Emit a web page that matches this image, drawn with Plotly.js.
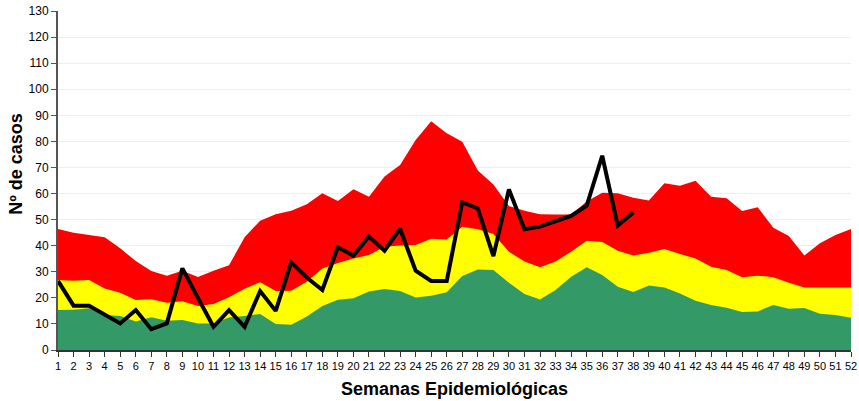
<!DOCTYPE html>
<html>
<head>
<meta charset="utf-8">
<script src="https://cdn.plot.ly/plotly-3.0.1.min.js"></script>
<style>html,body{margin:0;padding:0;background:#fff;}#chart{width:859px;height:401px;}</style>
</head>
<body>
<div id="chart"></div>
<script>
const weeks = Array.from({length: 52}, (_, i) => i + 1);
const redTop = [46.4,45,44.1,43.2,39,34.1,30.3,28.5,30.4,28,30.4,32.5,43.2,49.6,52.1,53.4,55.9,60.1,57.1,61.6,58.8,66.5,70.9,80.5,87.7,83.1,79.9,68.8,63.5,55.2,53.4,52.1,52,52,56.9,60.3,60.1,58.4,57.3,63.9,63,64.9,58.8,58.2,53.3,54.7,46.9,43.7,36.2,40.9,44.1,46.4];
const yellowTop = [26.8,26.6,26.8,23.6,22,19.2,19.5,18.1,18.7,16.9,17.6,20.2,23.5,26,22.6,22.7,26.2,31.3,33.4,35.1,36.4,39.6,40.1,40.3,42.7,42.4,47.3,46.3,44.5,37.7,33.9,31.7,33.9,37.7,41.9,41.4,38.1,36.2,37.3,38.7,36.8,35.1,31.9,30.7,27.9,28.5,27.9,25.8,24,24,24,24];
const greenTop = [15.3,15.4,16,13.4,13,10.9,12.6,11.2,11.5,10.2,10.2,12.5,13,13.8,10,9.7,12.8,16.9,19.3,19.8,22.4,23.4,22.6,20.1,20.8,22.1,28.4,30.9,30.7,25.8,21.5,19.4,23,28.1,31.7,28.8,24.3,22.2,24.7,24,21.7,18.9,17.3,16.2,14.6,14.8,17.3,15.8,16.1,13.9,13.4,12.4];
const casesWeeks = weeks.slice(0, 38);
const cases = [26.5,17,17,13.4,10.2,15.3,8,10.2,31.3,20,8.9,15.3,8.9,22.6,15,33.6,27.8,23,39.4,36.2,43.5,38.1,46.5,30.4,26.5,26.5,56.6,54.3,36,61.6,46.3,47.3,49.5,51.4,55.3,74.5,47.7,52.7];
const yTicks = [0,10,20,30,40,50,60,70,80,90,100,110,120,130];
const yTitle = 'Nº de casos';
const xTitle = 'Semanas Epidemiológicas';

const traces = [
  {x: weeks, y: redTop, type: 'scatter', mode: 'none', fill: 'tozeroy', fillcolor: '#FF0000', hoverinfo: 'skip'},
  {x: weeks, y: yellowTop, type: 'scatter', mode: 'none', fill: 'tozeroy', fillcolor: '#FFFF00', hoverinfo: 'skip'},
  {x: weeks, y: greenTop, type: 'scatter', mode: 'none', fill: 'tozeroy', fillcolor: '#339966', hoverinfo: 'skip'},
  {x: casesWeeks, y: cases, type: 'scatter', mode: 'lines', line: {color: '#000000', width: 4}}
];

const layout = {
  width: 859, height: 401,
  margin: {l: 58, r: 8, t: 11, b: 51},
  paper_bgcolor: '#ffffff', plot_bgcolor: '#ffffff',
  showlegend: false,
  font: {family: 'Arial, "Liberation Sans", sans-serif', size: 11, color: '#000'},
  xaxis: {
    range: [1, 52], tickvals: weeks, ticktext: weeks.map(String),
    showgrid: false, zeroline: false,
    showline: true, linecolor: '#333', linewidth: 2,
    ticks: 'outside', ticklen: 5, tickcolor: '#333', tickwidth: 1,
    tickfont: {size: 11, family: '"Liberation Sans Narrow", Arial, sans-serif'},
    title: {text: xTitle, font: {size: 18, family: 'Arial, "Liberation Sans", sans-serif', weight: 'bold'}, standoff: 11}
  },
  yaxis: {
    range: [0, 130], tickvals: yTicks,
    showgrid: true, gridcolor: '#eeeeee', gridwidth: 1, zeroline: false,
    showline: true, linecolor: '#555', linewidth: 2,
    ticks: 'outside', ticklen: 5, tickcolor: '#555',
    tickfont: {size: 12}
  },
  annotations: [{
    text: yTitle, textangle: -90, showarrow: false,
    xref: 'paper', yref: 'paper', x: -0.053, y: 0.549,
    xanchor: 'center', yanchor: 'middle',
    font: {size: 18, family: 'Arial, "Liberation Sans", sans-serif', weight: 'bold', color: '#000'}
  }]
};

Plotly.newPlot('chart', traces, layout, {displayModeBar: false, staticPlot: true});
</script>
</body>
</html>
